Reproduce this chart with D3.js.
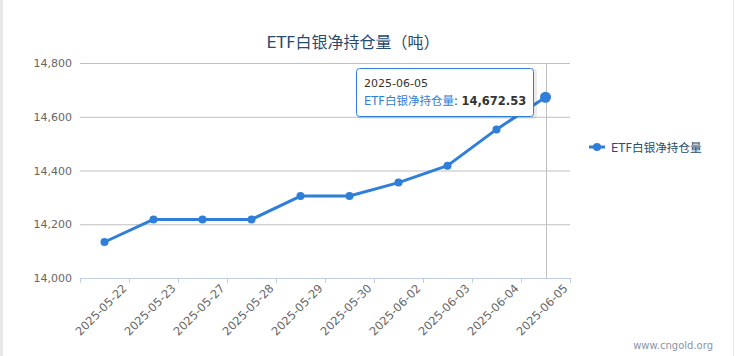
<!DOCTYPE html>
<html><head><meta charset="utf-8">
<script src="https://cdn.jsdelivr.net/npm/d3@7"></script>
<style>body{margin:0;background:#fff}svg{display:block}</style>
</head><body>
<svg id="c" width="739" height="356"></svg>
<script>
const categories = ["2025-05-22","2025-05-23","2025-05-27","2025-05-28","2025-05-29","2025-05-30","2025-06-02","2025-06-03","2025-06-04","2025-06-05"];
const values = [14134, 14218, 14218, 14218, 14305, 14305, 14355, 14418, 14553, 14672.53];
const yTicks = [14000, 14200, 14400, 14600, 14800];
const seriesName = "ETF白银净持仓量";
const title = "ETF白银净持仓量（吨）";

const FONT = "'DejaVu Sans','Noto Sans CJK SC',sans-serif";
const color = "#2f7ed8";
const svg = d3.select("#c");
const L = 80, R = 570, T = 63, B = 278;

// page borders
svg.append("rect").attr("x",0).attr("y",0).attr("width",3).attr("height",356).attr("fill","#e8e8e8");
svg.append("line").attr("x1",733.5).attr("x2",733.5).attr("y1",0).attr("y2",356).attr("stroke","#e8e8e8");

const x = d3.scaleBand().domain(categories).range([L, R]);
const y = d3.scaleLinear().domain([14000, 14800]).range([B, T]);

// title
svg.append("text").attr("x",353).attr("y",48).attr("text-anchor","middle")
  .attr("font-family",FONT).attr("font-size",16).attr("fill","#274b6d").text(title);

// grid + y labels
const yAxis = d3.axisLeft(y).tickValues(yTicks).tickSize(-(R-L)).tickPadding(8)
  .tickFormat(d3.format(","));
const gy = svg.append("g").attr("transform",`translate(${L},0)`).call(yAxis);
gy.select(".domain").remove();
gy.selectAll(".tick line").attr("stroke","#c0c0c0");
gy.selectAll(".tick text").attr("font-family",FONT).attr("font-size",11).attr("fill","#666").attr("x",-8);

// x axis
const gx = svg.append("g").attr("transform",`translate(0,${B})`);
gx.append("line").attr("x1",L).attr("x2",R).attr("y1",0.5).attr("y2",0.5).attr("stroke","#c0d0e0");
const bounds = categories.map(c => x(c)).concat([R]);
gx.selectAll("line.tk").data(bounds).enter().append("line").attr("class","tk")
  .attr("x1",d=>Math.round(d)+0.5).attr("x2",d=>Math.round(d)+0.5).attr("y1",0).attr("y2",5).attr("stroke","#c0d0e0");
gx.selectAll("text.xl").data(categories).enter().append("text").attr("class","xl")
  .attr("transform",d=>`translate(${x(d)+x.bandwidth()/2+23},${11}) rotate(-45)`)
  .attr("text-anchor","end").attr("font-family",FONT).attr("font-size",11.5).attr("fill","#666").text(d=>d);

// crosshair
const lastX = x(categories[9]) + x.bandwidth()/2;
svg.append("line").attr("x1",Math.round(lastX)+0.5).attr("x2",Math.round(lastX)+0.5).attr("y1",T).attr("y2",B).attr("stroke","#c0c0c0");

// line
const cx = d => x(d) + x.bandwidth()/2;
const line = d3.line().x((d,i)=>cx(categories[i])).y(d=>y(d));
svg.append("path").datum(values).attr("d",line).attr("fill","none").attr("stroke",color).attr("stroke-width",3).attr("stroke-linejoin","round");
svg.selectAll("circle.pt").data(values).enter().append("circle").attr("class","pt")
  .attr("cx",(d,i)=>cx(categories[i])).attr("cy",d=>y(d)).attr("r",(d,i)=>i===9?5.5:4).attr("fill",color);

// legend
svg.append("line").attr("x1",589).attr("x2",605).attr("y1",147).attr("y2",147).attr("stroke",color).attr("stroke-width",3);
svg.append("circle").attr("cx",597).attr("cy",147).attr("r",4).attr("fill",color);
svg.append("text").attr("x",611).attr("y",151.5).attr("font-family",FONT).attr("font-size",11.6).attr("fill","#274b6d").text(seriesName);

// tooltip
const tt = svg.append("g");
tt.append("rect").attr("x",358.5).attr("y",69.5).attr("width",177).attr("height",48).attr("rx",3).attr("fill","none").attr("stroke","#000").attr("stroke-opacity",0.08).attr("stroke-width",3);
tt.append("rect").attr("x",356.5).attr("y",68.5).attr("width",177).attr("height",48).attr("rx",3).attr("fill","#fff").attr("fill-opacity",0.96).attr("stroke",color).attr("stroke-width",1);
tt.append("text").attr("x",364).attr("y",87).attr("font-family",FONT).attr("font-size",11).attr("fill","#333").text(categories[9]);
const t2 = tt.append("text").attr("x",364).attr("y",105).attr("font-family",FONT).attr("font-size",11.5).attr("fill","#333");
t2.append("tspan").attr("fill",color).text(seriesName);
t2.append("tspan").text(": ");
t2.append("tspan").attr("font-weight","bold").text(d3.format(",.2f")(values[9]));

// watermark
svg.append("text").attr("x",713).attr("y",349).attr("text-anchor","end").attr("font-family",FONT).attr("font-size",10).attr("fill","#8a94a8").text("www.cngold.org");
</script>
</body></html>
